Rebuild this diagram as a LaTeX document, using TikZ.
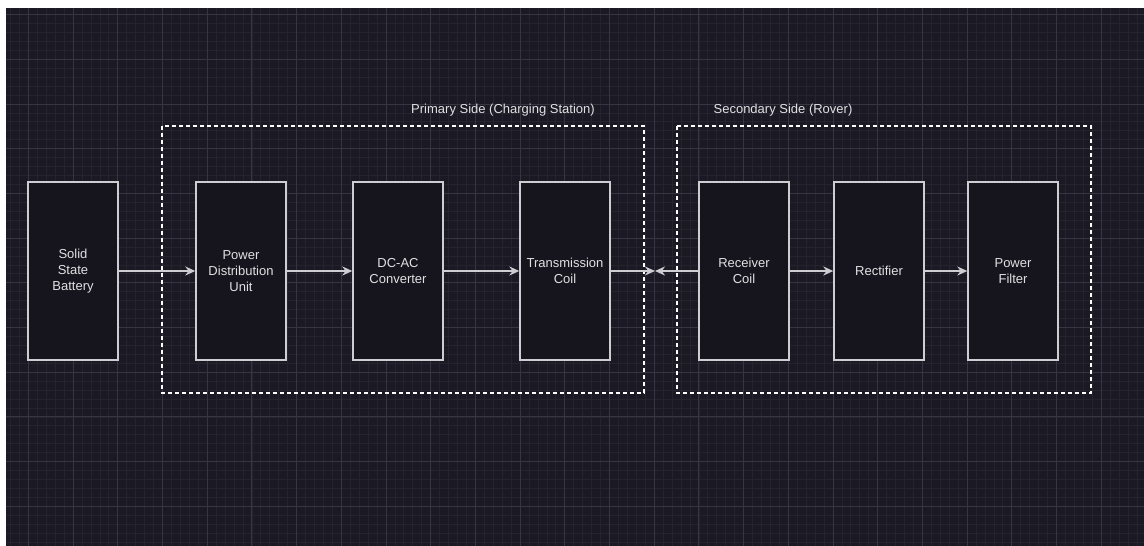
\documentclass[tikz,border=0pt]{standalone}
\usepackage{fontspec}
\setmainfont{Liberation Sans}
\usetikzlibrary{arrows.meta,positioning}
\definecolor{canvasbg}{RGB}{27,25,35}
\definecolor{boxfill}{RGB}{22,20,28}
\definecolor{minorgrid}{RGB}{37,35,46}
\definecolor{majorgrid}{RGB}{55,53,65}
\definecolor{boxline}{RGB}{205,205,210}
\definecolor{labeltext}{RGB}{225,225,228}

\begin{document}
\begin{tikzpicture}[x=1pt,y=-1pt,
  block/.style={draw=boxline, fill=boxfill, line width=1.4pt, minimum width=90pt, minimum height=178pt,
    align=center, text=labeltext, font=\fontsize{13}{16}\selectfont},
  group/.style={draw=white, line width=1.3pt, dash pattern=on 4pt off 3pt},
  grouplabel/.style={text=labeltext, font=\fontsize{13}{16}\selectfont},
  link/.style={draw=boxline, line width=1.4pt, -{Stealth[length=10pt,width=9pt]}}]
\useasboundingbox (0,0) rectangle (1144,546);
% Canvas
\fill[white] (0,0) rectangle (1144,546);
\fill[canvasbg] (6,8) rectangle (1144,546);
\begin{scope}
\clip (6,8) rectangle (1144,546);
\foreach \i in {-3,...,125} \draw[minorgrid, line width=0.6pt] ({28.3+\i*8.94},8) -- ({28.3+\i*8.94},546);
\foreach \j in {-1,...,60} \draw[minorgrid, line width=0.6pt] (6,{14.5+\j*8.94}) -- (1144,{14.5+\j*8.94});
\foreach \i in {-1,...,25} \draw[majorgrid, line width=0.8pt] ({28.3+\i*44.7},8) -- ({28.3+\i*44.7},546);
\foreach \j in {0,...,12} \draw[majorgrid, line width=0.8pt] (6,{14.5+\j*44.7}) -- (1144,{14.5+\j*44.7});
\end{scope}
% Groups
\draw[group] (162,126) rectangle (644,393);
\draw[group] (677,126) rectangle (1091,393);
\node[grouplabel] (primlbl) at (503,110) {Primary Side (Charging Station)};
\node[grouplabel] (seclbl) at (783,110) {Secondary Side (Rover)};
% Blocks
\node[block] (battery) at (73,271) {Solid\\State\\Battery};
\node[block] (pdu) at (241,271) {Power\\Distribution\\Unit};
\node[block] (inverter) at (398,271) {DC-AC\\Converter};
\node[block] (txcoil) at (565,271) {Transmission\\Coil};
\node[block] (rxcoil) at (744,271) {Receiver\\Coil};
\node[block] (rectifier) at (879,271) {Rectifier};
\node[block] (filter) at (1013,271) {Power\\Filter};
\coordinate (gap) at (655,271);
% Links
\draw[link] (battery) -- (pdu);
\draw[link] (pdu) -- (inverter);
\draw[link] (inverter) -- (txcoil);
\draw[link] (txcoil) -- (gap);
\draw[link] (rxcoil) -- (gap);
\draw[link] (rxcoil) -- (rectifier);
\draw[link] (rectifier) -- (filter);
\end{tikzpicture}
\end{document}
